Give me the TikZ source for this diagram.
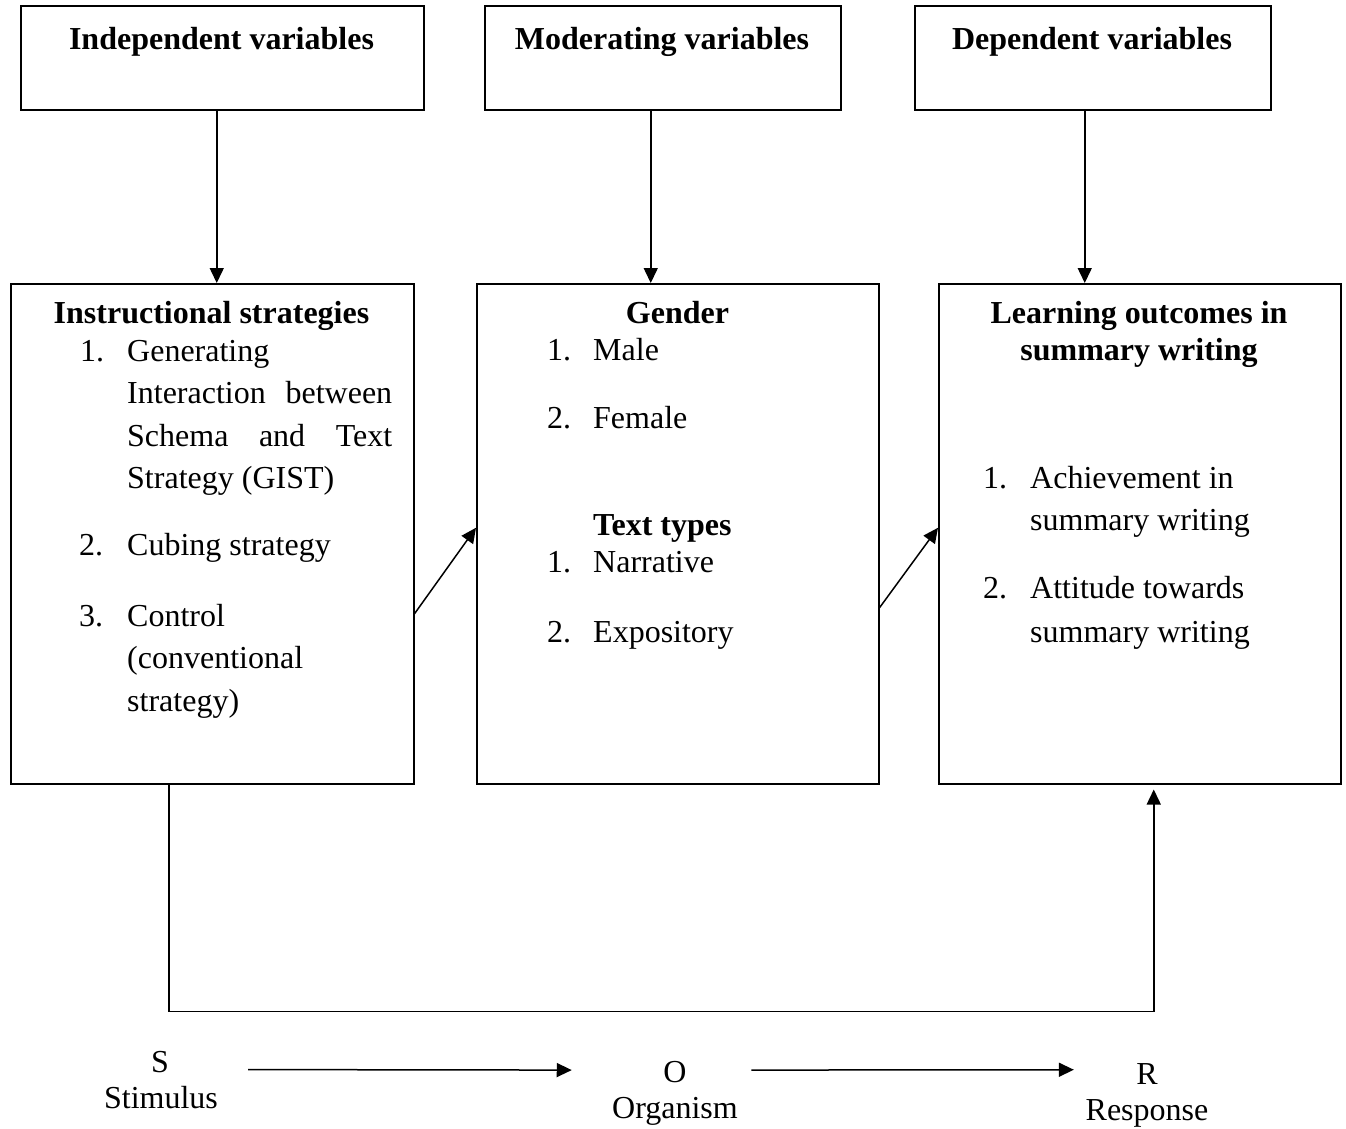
\documentclass[tikz,border=0pt]{standalone}
\usepackage{fontspec}
\setmainfont{Liberation Serif}
\usetikzlibrary{arrows.meta}
\begin{document}
\begin{tikzpicture}[x=1pt,y=-1pt,
  box/.style={draw, line width=1.5pt, inner sep=0pt, anchor=north west},
  txt/.style={inner sep=0pt, anchor=base west, font=\fontsize{32}{38}\selectfont},
  btxt/.style={inner sep=0pt, anchor=base west, font=\fontsize{32}{38}\selectfont\bfseries},
  head/.style={inner sep=0pt, anchor=base, font=\fontsize{32}{38}\selectfont\bfseries},
  ctxt/.style={inner sep=0pt, anchor=base, font=\fontsize{32}{38}\selectfont},
  arr/.style={line width=1.5pt, -{Triangle[length=15pt,width=14pt]}}]
\useasboundingbox (0,0) rectangle (1346,1128);

% top boxes
\node[box, minimum width=403pt, minimum height=104pt] (t1) at (20,5) {};
\node[box, minimum width=356pt, minimum height=104pt] (t2) at (484,5) {};
\node[box, minimum width=356pt, minimum height=104pt] (t3) at (914,5) {};
\node[head] (h1) at (221.5,49) {Independent variables};
\node[head] (h2) at (662,49) {Moderating variables};
\node[head] (h3) at (1092,49) {Dependent variables};

% main boxes
\node[box, minimum width=403pt, minimum height=500pt] (m1) at (10,283) {};
\node[box, minimum width=402pt, minimum height=500pt] (m2) at (476,283) {};
\node[box, minimum width=402pt, minimum height=500pt] (m3) at (938,283) {};

% box 1 text
\node[head] (b1h) at (211.5,323) {Instructional strategies};
\node[txt] (b1n1) at (80,361) {1.};
\node[txt] (b1l1) at (127,361) {Generating};
\node[txt] (b1l2) at (127,403) {\hbox to 265pt{Interaction\hfill between}};
\node[txt] (b1l3) at (127,446) {\hbox to 265pt{Schema\hfill and\hfill Text}};
\node[txt] (b1l4) at (127,488) {Strategy (GIST)};
\node[txt] (b1n2) at (79,555) {2.};
\node[txt] (b1l5) at (127,555) {Cubing strategy};
\node[txt] (b1n3) at (79,626) {3.};
\node[txt] (b1l6) at (127,626) {Control};
\node[txt] (b1l7) at (127,668) {(conventional};
\node[txt] (b1l8) at (127,711) {strategy)};

% box 2 text
\node[head] (b2h) at (677.5,323) {Gender};
\node[txt] (b2n1) at (547,360) {1.};
\node[txt] (b2l1) at (593,360) {Male};
\node[txt] (b2n2) at (547,428) {2.};
\node[txt] (b2l2) at (593,428) {Female};
\node[btxt] (b2h2) at (593,535) {Text types};
\node[txt] (b2n3) at (547,572) {1.};
\node[txt] (b2l3) at (593,572) {Narrative};
\node[txt] (b2n4) at (547,642) {2.};
\node[txt] (b2l4) at (593,642) {Expository};

% box 3 text
\node[head] (b3h) at (1139,323) {Learning outcomes in};
\node[head] (b3h2) at (1139,360) {summary writing};
\node[txt] (b3n1) at (983,488) {1.};
\node[txt] (b3l1) at (1030,488) {Achievement in};
\node[txt] (b3l2) at (1030,530) {summary writing};
\node[txt] (b3n2) at (983,598) {2.};
\node[txt] (b3l3) at (1030,598) {Attitude towards};
\node[txt] (b3l4) at (1030,642) {summary writing};

% vertical arrows
\draw[arr] ([xshift=-5.5pt]t1.south) -- ([xshift=4.5pt]m1.north);
\draw[arr] ([xshift=-12pt]t2.south) -- ([xshift=-27pt]m2.north);
\draw[arr] ([xshift=-8pt]t3.south) -- ([xshift=-55pt]m3.north);

% diagonal arrows
\draw[arr] ([yshift=-80pt]m1.east) -- ([yshift=6pt]m2.west);
\draw[arr] ([yshift=-74pt]m2.east) -- ([yshift=6pt]m3.west);

% bottom route
\draw[arr] ([xshift=-43.5pt]m1.south) -- ++(0,227) -| ([xshift=14pt,yshift=-5pt]m3.south);

% S O R
\node[ctxt] (S) at (160,1072) {S};
\node[ctxt] (Sl) at (161,1108) {Stimulus};
\node[ctxt] (O) at (675,1082) {O};
\node[ctxt] (Ol) at (675,1118) {Organism};
\node[ctxt] (R) at (1147,1084) {R};
\node[ctxt] (Rl) at (1147,1120) {Response};
\draw[arr] ([xshift=79pt,yshift=-8pt]S.east) -- ([xshift=-91.5pt,yshift=1.5pt]O.west);
\draw[arr] ([xshift=64.5pt,yshift=1.5pt]O.east) -- ([xshift=-62.3pt,yshift=3.8pt]R.west);
\end{tikzpicture}
\end{document}
